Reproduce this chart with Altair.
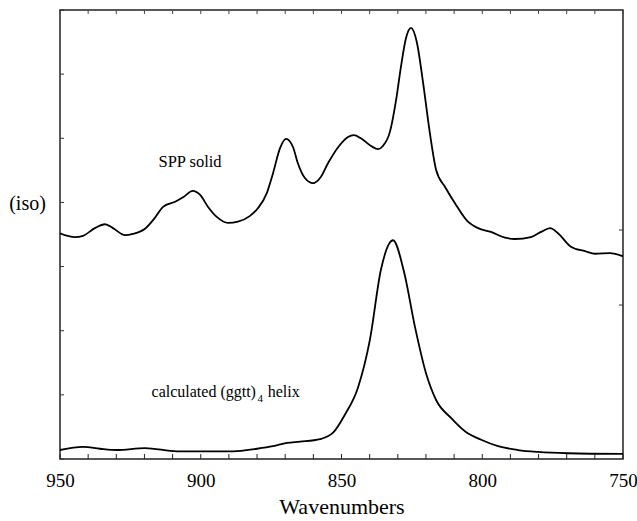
import altair as alt
import pandas as pd

# SPP solid spectrum (wavenumber, intensity)
spp_wn = [950, 944.7, 941.8, 937.6, 934.0, 931.2, 926.9, 924.1, 919.8, 916.3, 913.4, 909.1,
          906.3, 902.8, 900.3, 897.4, 894.2, 890.3, 886.8, 882.5, 879.7, 876.5, 874.3, 871.8,
          869.7, 867.2, 865.5, 863.0, 860.1, 857.6, 854.8, 851.2, 847.7, 845.6, 843.1, 839.5,
          837.0, 835.3, 832.8, 830.6, 828.9, 827.1, 825.3, 823.2, 821.0, 818.6, 816.4, 813.2,
          809.3, 805.1, 801.5, 796.9, 791.9, 788.4, 782.7, 779.1, 775.9, 773.1, 768.5, 763.5,
          759.9, 754.6, 750]
spp_int = [3.52, 3.46, 3.48, 3.60, 3.66, 3.60, 3.49, 3.51, 3.59, 3.76, 3.93, 4.01,
           4.08, 4.18, 4.12, 3.93, 3.77, 3.68, 3.70, 3.79, 3.91, 4.15, 4.46, 4.85,
           4.99, 4.86, 4.61, 4.38, 4.30, 4.38, 4.61, 4.86, 5.02, 5.05, 5.00, 4.88,
           4.83, 4.88, 5.10, 5.60, 6.11, 6.56, 6.72, 6.49, 5.86, 5.08, 4.51, 4.24,
           3.96, 3.70, 3.60, 3.54, 3.45, 3.43, 3.46, 3.54, 3.60, 3.52, 3.31, 3.24,
           3.20, 3.21, 3.16]

# calculated (ggtt)4 helix spectrum
calc_wn = [950, 941.8, 935.8, 929.8, 919.8, 908.4, 900.3, 888.5, 880.0, 874.3, 869.4, 864.7,
           857.6, 853.0, 848.8, 844.1, 839.9, 836.0, 831.7, 827.8, 823.9, 820.0, 816.4, 811.1,
           805.8, 800.4, 794.4, 787.3, 780.2, 769.5, 750]
calc_int = [0.14, 0.19, 0.16, 0.14, 0.17, 0.12, 0.12, 0.12, 0.16, 0.20, 0.25, 0.27,
            0.31, 0.41, 0.69, 1.12, 1.86, 2.95, 3.41, 2.92, 2.06, 1.34, 0.92, 0.64,
            0.42, 0.30, 0.20, 0.14, 0.11, 0.09, 0.08]

x_labels = [950, 900, 850, 800, 750]
x_minor = list(range(750, 951, 10))
y_ticks = [0, 1, 2, 3, 4, 5, 6, 7]
right_ticks = [3.57, 2.4]

FONT = "Liberation Serif, Times New Roman, serif"
W, H = 563, 449

df = pd.concat([
    pd.DataFrame({"wn": spp_wn, "v": spp_int, "s": "SPP solid"}),
    pd.DataFrame({"wn": calc_wn, "v": calc_int, "s": "calc"}),
])

xs = alt.Scale(domain=[750, 950], reverse=True, nice=False, zero=False)
ys = alt.Scale(domain=[0, 7], nice=False, zero=False)

lines = alt.Chart(df).mark_line(color="black", strokeWidth=1.8, clip=True,
                                interpolate="monotone").encode(
    x=alt.X("wn:Q", scale=xs,
            axis=alt.Axis(values=x_labels, title="Wavenumbers", grid=False, ticks=False,
                          domain=False, labelFont=FONT, labelFontSize=19, labelColor="black",
                          labelPadding=12, titleFont=FONT, titleFontSize=22,
                          titleFontWeight="normal", titleColor="black", titlePadding=6,
                          labelFlush=False)),
    y=alt.Y("v:Q", scale=ys,
            axis=alt.Axis(values=y_ticks, labels=False, ticks=False, grid=False, domain=False,
                          title="(iso)", titleAngle=0, titleFont=FONT, titleFontSize=20,
                          titleFontWeight="normal", titleColor="black", titleX=-33,
                          titleY=193, titleAlign="center", titleBaseline="middle")),
    detail="s:N",
)

tick_df = pd.DataFrame({"t": x_minor})
bottom_ticks = alt.Chart(tick_df).mark_rule(color="#222", strokeWidth=1).encode(
    x=alt.X("t:Q", scale=xs),
    y=alt.value(H),
    y2=alt.value(H - 5),
)
top_ticks = alt.Chart(tick_df).mark_rule(color="#444", strokeWidth=1).encode(
    x=alt.X("t:Q", scale=xs),
    y=alt.value(0),
    y2=alt.value(4),
)
left_ticks = alt.Chart(pd.DataFrame({"t": y_ticks})).mark_rule(color="#333", strokeWidth=1).encode(
    y=alt.Y("t:Q", scale=ys),
    x=alt.value(0),
    x2=alt.value(4),
)
rticks = alt.Chart(pd.DataFrame({"t": right_ticks})).mark_rule(color="#333", strokeWidth=1).encode(
    y=alt.Y("t:Q", scale=ys),
    x=alt.value(W),
    x2=alt.value(W - 4),
)

ann_text = ["SPP solid", "calculated (ggtt)", "4", "helix"]
ann_wn = [903.8, 880.4, 879.8, 876.2]
ann_v = [4.63, 1.045, 0.93, 1.045]
ann_align = ["center", "right", "left", "left"]
ann_size = [16.5, 16, 11, 16]
ann_df = pd.DataFrame({"txt": ann_text, "wn": ann_wn, "v": ann_v})

ann_layers = []
for i in range(len(ann_text)):
    ann_layers.append(
        alt.Chart(ann_df.iloc[[i]]).mark_text(
            font=FONT, fontSize=ann_size[i], align=ann_align[i], baseline="middle",
            color="black").encode(
            x=alt.X("wn:Q", scale=xs), y=alt.Y("v:Q", scale=ys), text="txt:N")
    )

chart = alt.layer(lines, bottom_ticks, top_ticks, left_ticks, rticks, *ann_layers).properties(
    width=W, height=H,
    autosize=alt.AutoSizeParams(type="none"),
    padding={"left": 60, "top": 10, "right": 14, "bottom": 62},
    background="white",
).configure_view(stroke="#222", strokeWidth=1.5)

chart.save("out.html", embed_options={"renderer": "svg", "actions": False})
